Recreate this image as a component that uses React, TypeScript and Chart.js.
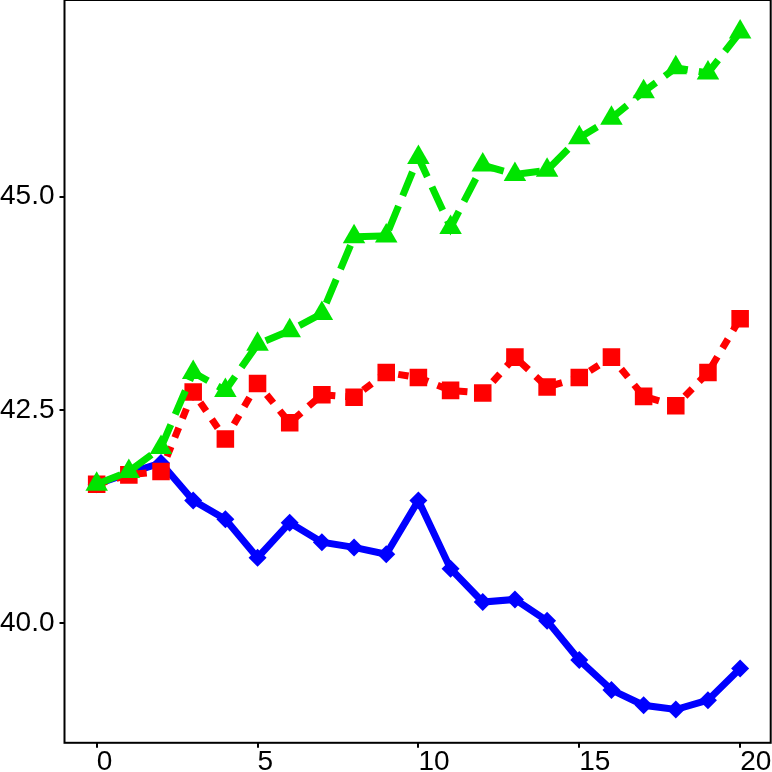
import { Chart, registerables } from "chart.js";
import { useEffect, useRef } from "react";

Chart.register(...registerables);

const steps = [0, 1, 2, 3, 4, 5, 6, 7, 8, 9, 10, 11, 12, 13, 14, 15, 16, 17, 18, 19, 20];
const blueSeries = [41.63, 41.76, 41.88, 41.44, 41.22, 40.77, 41.18, 40.95, 40.89, 40.81, 41.44, 40.64, 40.25, 40.28, 40.03, 39.57, 39.22, 39.04, 38.99, 39.10, 39.47];
const redSeries = [41.63, 41.74, 41.78, 42.71, 42.16, 42.81, 42.35, 42.68, 42.65, 42.94, 42.88, 42.73, 42.70, 43.12, 42.77, 42.88, 43.12, 42.66, 42.55, 42.94, 43.57];
const greenSeries = [41.63, 41.78, 42.06, 42.94, 42.73, 43.27, 43.43, 43.63, 44.53, 44.54, 45.46, 44.64, 45.37, 45.26, 45.31, 45.69, 45.92, 46.23, 46.51, 46.45, 46.93];
const xTicks = [0, 5, 10, 15, 20];
const yTicks = [40, 42.5, 45];

const toPoints = (vals: number[]) => vals.map((v, i) => ({ x: steps[i], y: v }));

// рамка вокруг области графика
const boxPlugin = {
    id: "box",
    afterDraw(chart: any) {
        const { ctx, chartArea } = chart;
        ctx.save();
        ctx.strokeStyle = "#000";
        ctx.lineWidth = 2;
        ctx.strokeRect(chartArea.left, chartArea.top, chartArea.right - chartArea.left, chartArea.bottom - chartArea.top);
        ctx.restore();
    },
};

const tickFont = { family: "'Liberation Sans', Arial, sans-serif", size: 28, lineHeight: 1 };

export default function App() {
    const canvasRef = useRef<HTMLCanvasElement | null>(null);
    const chartRef = useRef<Chart | null>(null);

    useEffect(() => {
        if (!canvasRef.current) return;
        if (chartRef.current) chartRef.current.destroy();

        chartRef.current = new Chart(canvasRef.current, {
            type: "line",
            data: {
                datasets: [
                    {
                        data: toPoints(blueSeries),
                        borderColor: "#0000ff",
                        backgroundColor: "#0000ff",
                        borderWidth: 7,
                        pointStyle: "rectRot",
                        pointRadius: 9,
                        pointBorderWidth: 0,
                        order: 3,
                    },
                    {
                        data: toPoints(redSeries),
                        borderColor: "#ff0000",
                        backgroundColor: "#ff0000",
                        borderWidth: 7,
                        borderDash: [10.5, 10],
                        pointStyle: "rect",
                        pointRadius: 12.4,
                        pointBorderWidth: 0,
                        order: 2,
                    },
                    {
                        data: toPoints(greenSeries),
                        borderColor: "#00e400",
                        backgroundColor: "#00e400",
                        borderWidth: 7,
                        borderDash: [25.8, 11.1],
                        pointStyle: "triangle",
                        pointRadius: 13,
                        pointBorderWidth: 0,
                        order: 1,
                    },
                ],
            },
            options: {
                animation: false,
                responsive: true,
                maintainAspectRatio: false,
                layout: { autoPadding: false, padding: { left: 0, right: 29.3, top: 0, bottom: 24.2 } },
                plugins: { legend: { display: false }, tooltip: { enabled: false } },
                elements: { line: { tension: 0, borderCapStyle: "butt" } },
                scales: {
                    x: {
                        type: "linear",
                        min: -1,
                        max: 20.95,
                        border: { display: false },
                        grid: { display: true, drawOnChartArea: false, drawTicks: true, tickLength: 5, color: "#000", lineWidth: 2 },
                        afterBuildTicks: (axis: any) => { axis.ticks = xTicks.map(v => ({ value: v })); },
                        ticks: { align: "start", padding: 0, color: "#000", font: tickFont, maxRotation: 0, autoSkip: false },
                    },
                    y: {
                        type: "linear",
                        min: 38.6,
                        max: 47.305,
                        border: { display: false },
                        grid: { display: true, drawOnChartArea: false, drawTicks: true, tickLength: 5, color: "#000", lineWidth: 2 },
                        afterBuildTicks: (axis: any) => { axis.ticks = yTicks.map(v => ({ value: v })); },
                        afterFit: (axis: any) => { axis.width = 64.5; axis.paddingTop = 0; axis.paddingBottom = 0; },
                        ticks: { padding: 5, color: "#000", font: tickFont, callback: (v: any) => Number(v).toFixed(1) },
                    },
                },
            },
            plugins: [boxPlugin],
        });

        return () => {
            if (chartRef.current) chartRef.current.destroy();
            chartRef.current = null;
        };
    }, []);

    return (
        <div style={{ position: "fixed", left: 0, top: 0, width: 772, height: 772, overflow: "hidden", background: "#fff" }}>
            <div style={{ position: "relative", width: 800, height: 800 }}>
                <canvas ref={canvasRef} />
            </div>
        </div>
    );
}
